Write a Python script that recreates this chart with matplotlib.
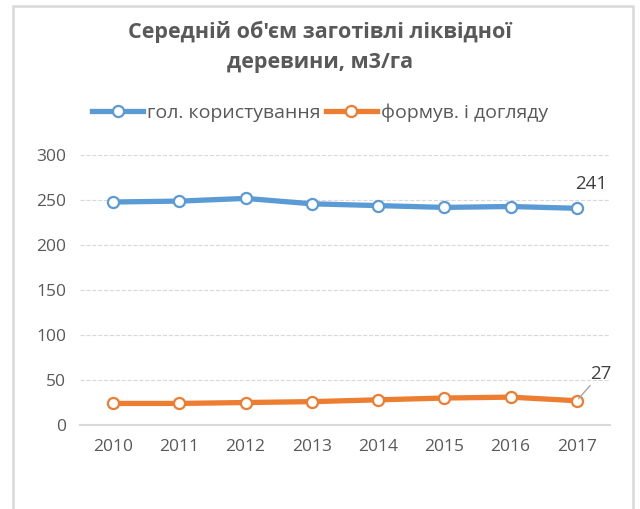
import matplotlib.pyplot as plt
from matplotlib.patches import Rectangle

# дані з графіка
years = ['2010', '2011', '2012', '2013', '2014', '2015', '2016', '2017']
main_use = [248, 249, 252, 246, 244, 242, 243, 241]
care_use = [24, 24, 25, 26, 28, 30, 31, 27]
series_names = ['гол. користування', 'формув. і догляду']

plt.rcParams['font.family'] = ['Open Sans', 'DejaVu Sans']
grey = '#595959'

fig = plt.figure(figsize=(6.4, 5.09), dpi=100)
ax = fig.add_axes([0.125, 0.165, 0.828, 0.53])

# рамка навколо діаграми
fig.patches.append(Rectangle((13 / 640, -0.05), 620 / 640, 1 - 6 / 509 + 0.05,
                             transform=fig.transFigure, fill=False,
                             edgecolor='#d9d9d9', linewidth=1.8))

x = range(len(years))
ax.plot(x, main_use, color='#5B9BD5', linewidth=3.8, marker='o', markersize=8,
        markerfacecolor='white', markeredgewidth=1.6, label=series_names[0])
ax.plot(x, care_use, color='#ED7D31', linewidth=3.8, marker='o', markersize=8,
        markerfacecolor='white', markeredgewidth=1.6, label=series_names[1])

ax.set_xlim(-0.5, len(years) - 0.5)
ax.set_ylim(0, 300)
ax.set_yticks(range(0, 301, 50))
ax.set_xticks(list(x))
ax.set_xticklabels(years)
ax.tick_params(length=0, labelsize=12.5, colors=grey, pad=10)
ax.grid(axis='y', color='#d9d9d9', linestyle='--', linewidth=0.8)
ax.set_axisbelow(True)
for s in ['top', 'left', 'right']:
    ax.spines[s].set_visible(False)
ax.spines['bottom'].set_color('#d9d9d9')
ax.spines['bottom'].set_linewidth(1.5)

# підписи даних
last = len(years) - 1
ax.annotate(str(main_use[-1]), (last, main_use[-1]), xytext=(10, 11),
            textcoords='offset points', ha='center', va='bottom',
            fontsize=13.5, color='#404040')
ax.annotate(str(care_use[-1]), (last, care_use[-1]), xytext=(17, 13),
            textcoords='offset points', ha='center', va='bottom',
            fontsize=13.5, color='#404040',
            arrowprops=dict(arrowstyle='-', color='#a6a6a6', linewidth=1,
                            shrinkA=0, shrinkB=2))

fig.text(0.5, 1 - 47 / 509, "Середній об'єм заготівлі ліквідної\nдеревини, м3/га",
         ha='center', va='center', fontsize=15.5, fontweight='bold', color=grey,
         linespacing=1.6)

fig.legend(loc='center', bbox_to_anchor=(0.5, 1 - 113 / 509), ncol=2,
           frameon=False, fontsize=14, labelcolor=grey, handlelength=2.6,
           columnspacing=0.3, handletextpad=0.2)

fig.savefig('out.png', dpi=100)
